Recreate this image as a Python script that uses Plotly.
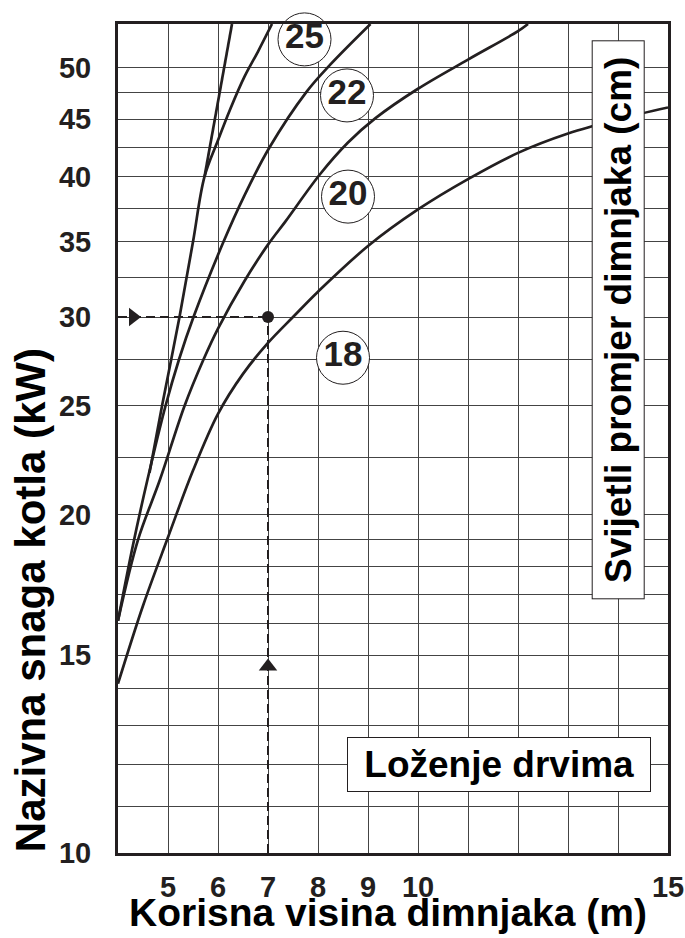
import math
import plotly.graph_objects as go

# ---- data ----
# chimney diameter curves (cm): x = useful chimney height (m), y = boiler power (kW)
x18 = [4.0, 4.5, 5.0, 5.5, 6.0, 6.5, 7.0, 7.5, 8.0, 9.0, 10.0, 11.0, 12.0, 13.0, 14.0, 15.0]
y18 = [14.15, 16.6, 19.1, 21.9, 24.6, 26.7, 28.45, 30.0, 31.6, 34.7, 37.4, 39.8, 42.0, 43.7, 45.0, 46.1]

x20 = [4.0, 4.4, 4.84, 5.33, 5.71, 6.0, 6.53, 7.0, 7.35, 8.04, 8.6, 9.15, 10.0, 11.0, 12.0, 12.2]
y20 = [16.1, 19.0, 21.5, 25.0, 27.5, 29.3, 32.3, 34.8, 36.5, 40.2, 42.9, 45.1, 47.9, 50.85, 53.9, 54.7]

x22 = [4.0, 4.3, 4.59, 4.95, 5.22, 5.51, 6.11, 6.53, 7.02, 7.77, 8.24, 9.05]
y22 = [16.1, 18.8, 21.5, 25.0, 27.5, 30.0, 35.0, 38.5, 42.4, 47.6, 50.3, 54.7]

x25 = [4.63, 4.88, 5.23, 5.5, 5.73, 6.0, 6.25, 6.53, 6.8, 7.08]
y25 = [21.8, 25.0, 30.0, 35.0, 40.0, 43.1, 46.0, 49.1, 51.7, 54.7]

x_steep = [5.73, 6.28]
y_steep = [40.0, 54.7]

label_x = [7.73, 8.58, 8.6, 8.5]
label_y = [53.0, 47.25, 38.4, 27.6]
label_text = ["25", "22", "20", "18"]

# example reading: 7 m -> 30 kW
ex_x = 7.0
ex_y = 30.0

x_ticks = [5, 6, 7, 8, 9, 10, 11, 12, 13, 14, 15]
x_ticktext = ["5", "6", "7", "8", "9", "10", "", "", "", "", "15"]
y_ticks = [10, 11, 12, 13, 14, 15, 16, 17, 18, 19, 20, 22.5, 25, 27.5, 30, 32.5,
           35, 37.5, 40, 42.5, 45, 47.5, 50]
y_ticktext = ["10", "", "", "", "", "15", "", "", "", "", "20", "", "25", "", "30", "",
              "35", "", "40", "", "45", "", "50"]

X_MIN, X_MAX = 4, 15
Y_MIN, Y_MAX = 10, 54.7

INK = "#231f20"
FONT = "Liberation Sans, Arial, Helvetica, sans-serif"

fig = go.Figure()

for xs, ys, shp in [(x18, y18, "spline"), (x20, y20, "spline"), (x22, y22, "spline"),
                    (x25, y25, "spline"), (x_steep, y_steep, "linear")]:
    fig.add_trace(go.Scatter(x=xs, y=ys, mode="lines",
                             line=dict(color=INK, width=2.7, shape=shp),
                             hoverinfo="skip", showlegend=False))

# dashed reading lines
fig.add_trace(go.Scatter(x=[X_MIN, ex_x], y=[ex_y, ex_y], mode="lines",
                         line=dict(color=INK, width=2, dash="9px,5px"),
                         hoverinfo="skip", showlegend=False))
fig.add_trace(go.Scatter(x=[ex_x, ex_x], y=[Y_MIN, ex_y], mode="lines",
                         line=dict(color=INK, width=2, dash="9px,5px"),
                         hoverinfo="skip", showlegend=False))
# arrow heads and point
fig.add_trace(go.Scatter(x=[4.3], y=[ex_y], mode="markers",
                         marker=dict(symbol="triangle-right", size=16, color=INK),
                         hoverinfo="skip", showlegend=False))
fig.add_trace(go.Scatter(x=[ex_x], y=[14.66], mode="markers",
                         marker=dict(symbol="triangle-up", size=16, color=INK),
                         hoverinfo="skip", showlegend=False))
fig.add_trace(go.Scatter(x=[ex_x], y=[ex_y], mode="markers",
                         marker=dict(symbol="circle", size=12, color=INK),
                         hoverinfo="skip", showlegend=False))

# circled diameter labels
fig.add_trace(go.Scatter(x=label_x, y=label_y, mode="markers+text", text=label_text,
                         textposition="middle center",
                         textfont=dict(family=FONT, size=35, color=INK, weight="bold"),
                         marker=dict(symbol="circle", size=53, color="white",
                                     line=dict(color=INK, width=1)),
                         cliponaxis=False, hoverinfo="skip", showlegend=False))

axis_common = dict(showgrid=True, gridcolor="#444444", gridwidth=1,
                   showline=True, linecolor=INK, linewidth=3, mirror=True,
                   ticks="", zeroline=False, automargin=False,
                   tickfont=dict(family=FONT, size=29, color=INK, weight="bold"))

fig.update_layout(
    width=685, height=938, autosize=False,
    margin=dict(l=118, r=17, t=24, b=85, pad=0),
    plot_bgcolor="white", paper_bgcolor="white",
    showlegend=False,
    xaxis=dict(range=[X_MIN, X_MAX], tickmode="array", tickvals=x_ticks,
               ticktext=x_ticktext, ticklabelstandoff=6, **axis_common),
    yaxis=dict(type="log", range=[math.log10(Y_MIN), math.log10(Y_MAX)],
               tickmode="array", tickvals=y_ticks, ticktext=y_ticktext,
               ticklabelstandoff=18, **axis_common),
    annotations=[
        dict(text="&nbsp;Loženje drvima&nbsp;", x=11.62, y=math.log10(12.0), xref="x", yref="y",
             showarrow=False, bgcolor="white", bordercolor=INK, borderwidth=1,
             borderpad=6, font=dict(family=FONT, size=37, color="black", weight="bold")),
        dict(text="&nbsp;Svijetli promjer dimnjaka (cm)&nbsp;", x=14.0, y=math.log10(29.8),
             xref="x", yref="y", textangle=-90,
             showarrow=False, bgcolor="white", bordercolor=INK, borderwidth=1,
             borderpad=5, font=dict(family=FONT, size=37, color="black", weight="bold")),
        dict(text="Korisna visina dimnjaka (m)", x=0.49, y=-0.072, xref="paper", yref="paper",
             xanchor="center", yanchor="middle", showarrow=False,
             font=dict(family=FONT, size=39, color="black", weight="bold")),
        dict(text="Nazivna snaga kotla (kW)", x=-0.16, y=0.305, xref="paper", yref="paper",
             xanchor="center", yanchor="middle", textangle=-90, showarrow=False,
             font=dict(family=FONT, size=42, color="black", weight="bold")),
    ],
)

fig.write_html("out.html", config={"displayModeBar": False},
               post_script="document.body.style.margin='0';document.body.style.padding='0';")
